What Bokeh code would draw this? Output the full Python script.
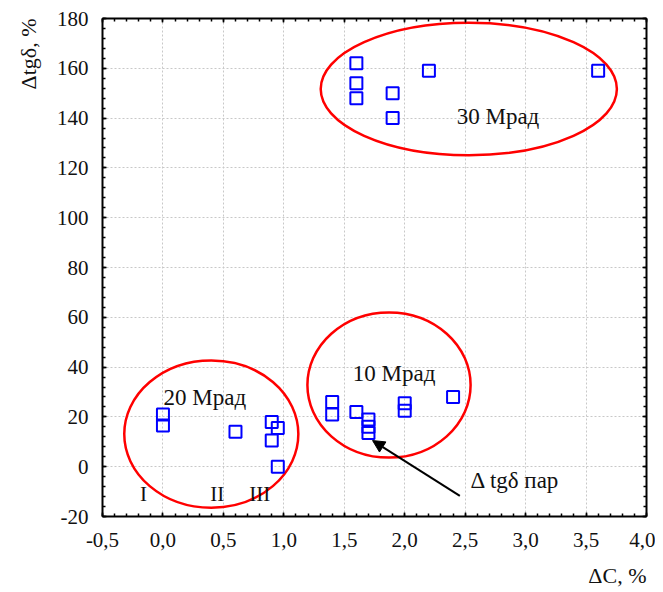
from bokeh.plotting import figure
from bokeh.models import (LinearAxis, SingleIntervalTicker, CustomJSTickFormatter, Range1d,
                          Title, Arrow, NormalHead)
from bokeh.core.properties import value
from bokeh.embed import file_html
from bokeh.resources import INLINE

# ---- data ----
x_30 = [1.6, 1.6, 1.6, 1.9, 1.9, 2.2, 3.6]
y_30 = [162, 154, 148, 150, 140, 159, 159]
x_20 = [0.0, 0.0, 0.6, 0.9, 0.95, 0.9, 0.95]
y_20 = [21, 16.5, 14, 18, 15.5, 10.5, 0]
x_10 = [1.4, 1.4, 1.6, 1.7, 1.7, 1.7, 2.0, 2.0, 2.4]
y_10 = [26, 21, 22, 19, 16, 13.5, 25.5, 22.5, 28]

ell_x = [2.53, 0.40, 1.87]
ell_y = [151.7, 13.1, 32.8]
ell_w = [2.45, 1.44, 1.35]
ell_h = [53.2, 59.1, 58.3]

lab_text = ["30 Мрад", "20 Мрад", "10 Мрад", "Δ tgδ пар"]
lab_x = [2.43, 0.005, 1.57, 2.545]
lab_y = [140.5, 27.9, 37.3, -5.6]

roman_text = ["I", "II", "III"]
roman_x = [-0.16, 0.45, 0.80]
roman_y = [-11, -11, -11]

arrow_start = (2.456, -11.7)
arrow_end = (1.734, 10.5)

SERIF = "Liberation Serif"

p = figure(frame_width=544, frame_height=498, output_backend="svg", toolbar_location=None,
           x_range=Range1d(-0.5, 4.0), y_range=Range1d(-20, 180),
           min_border_left=101, min_border_top=18, min_border_right=9, min_border_bottom=74,
           x_axis_location=None, y_axis_location=None)
p.outline_line_color = None
p.background_fill_color = "white"
p.border_fill_color = "white"

xt = SingleIntervalTicker(interval=0.5, num_minor_ticks=5)
yt = SingleIntervalTicker(interval=20, num_minor_ticks=5)
fmt_x = CustomJSTickFormatter(code="return tick.toFixed(1).replace('.', ',');")
fmt_y = CustomJSTickFormatter(code="return tick.toFixed(0);")
blank = CustomJSTickFormatter(code="return '';")


def style_axis(ax, show_labels, standoff=0):
    ax.axis_line_width = 2
    ax.axis_line_color = "black"
    ax.major_tick_in = 4
    ax.major_tick_out = 0
    ax.minor_tick_in = 3
    ax.minor_tick_out = 0
    ax.major_tick_line_width = 1.5
    ax.minor_tick_line_width = 1.5
    ax.major_tick_line_color = "black"
    ax.minor_tick_line_color = "black"
    ax.major_label_text_font = SERIF
    ax.major_label_text_font_size = "21px" if show_labels else "0px"
    ax.major_label_text_color = "#111111"
    ax.major_label_standoff = standoff


bx = LinearAxis(ticker=xt, formatter=fmt_x)
style_axis(bx, True, 16)
p.add_layout(bx, "below")
ly = LinearAxis(ticker=yt, formatter=fmt_y)
style_axis(ly, True, 14)
p.add_layout(ly, "left")
ta = LinearAxis(ticker=xt, formatter=blank)
style_axis(ta, False)
p.add_layout(ta, "above")
ra = LinearAxis(ticker=yt, formatter=blank)
style_axis(ra, False)
p.add_layout(ra, "right")

p.xgrid.ticker = xt
p.ygrid.ticker = yt
for g in (p.xgrid, p.ygrid):
    g.grid_line_color = "#c8c8c8"
    g.grid_line_dash = "2 2"
    g.grid_line_width = 1

p.add_layout(Title(text="ΔC, %", align="right", text_font=SERIF, text_font_size="22px",
                   text_font_style="normal", text_color="#111111", standoff=22), "below")
p.add_layout(Title(text="Δtgδ, %", align="right", text_font=SERIF, text_font_size="22px",
                   text_font_style="normal", text_color="#111111", standoff=26), "left")

# ellipses
p.ellipse(x=ell_x, y=ell_y, width=ell_w, height=ell_h, fill_color=None,
          line_color="#ff0000", line_width=2.5)

# points
for xs, ys in ((x_30, y_30), (x_20, y_20), (x_10, y_10)):
    p.scatter(xs, ys, marker="square", size=12, fill_color=None,
              line_color="#0000ff", line_width=2)

# labels
p.text(x=lab_x, y=lab_y, text=lab_text, text_font=value(SERIF), text_font_size="23px",
       text_baseline="middle", text_align="left", text_color="#111111")
p.text(x=roman_x, y=roman_y, text=roman_text, text_font=value(SERIF), text_font_size="21px",
       text_baseline="middle", text_align="center", text_color="#111111")

p.add_layout(Arrow(end=NormalHead(size=12, fill_color="black", line_color="black"),
                   x_start=arrow_start[0], y_start=arrow_start[1],
                   x_end=arrow_end[0], y_end=arrow_end[1],
                   line_color="black", line_width=2))

open("out.html", "w").write(file_html(p, INLINE))
